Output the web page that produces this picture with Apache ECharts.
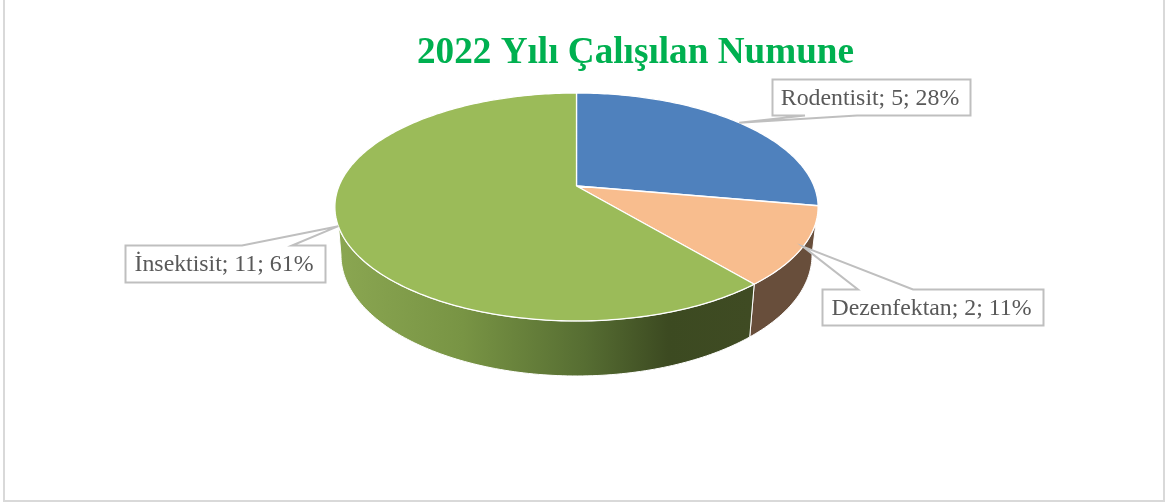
<!DOCTYPE html>
<html>
<head>
<meta charset="utf-8">
<style>
  html, body { margin: 0; padding: 0; background: #fff; }
  #chart { width: 1167px; height: 503px; }
</style>
<script src="https://cdn.jsdelivr.net/npm/echarts@6/dist/echarts.min.js"></script>
</head>
<body>
<div id="chart"></div>
<script>
var titleText = '2022 Yılı Çalışılan Numune'
var categories = ['Rodentisit', 'Dezenfektan', 'İnsektisit']
var values = [5, 2, 11]

var topColors = ['#4f81bd', '#f8bd8e', '#9bbb59']

// perspective of the disc, top ring and bottom ring
var disc = { cx: 576.5, p: 0.184, top: { a: 237.5, b: 75.9, c: 186 }, bottom: { a: 231.5, b: 74, c: 232.8 } }
// angles where the side wall stops being visible
var topVisible = [108, 249.6]
var bottomVisible = [100.6, 259.4]
// label boxes: x, y, w, h, edge the pointer leaves from, pointer base
var boxes = [
  { x: 772.5, y: 79.5, w: 198, h: 36, edge: 'bottom', base: [805, 857] },
  { x: 822.5, y: 289.5, w: 221, h: 36, edge: 'top', base: [858, 913] },
  { x: 125.5, y: 245.5, w: 200, h: 37, edge: 'top', base: [242, 292] }
]

var total = values.reduce(function (a, b) { return a + b }, 0)

// angle in degrees clockwise from the back of the disc -> screen point
function project (ring, deg, r) {
  var t = deg * Math.PI / 180
  var radius = r === undefined ? 1 : r
  var u = Math.sin(t) * radius
  var v = -Math.cos(t) * radius
  var d = 1 - disc.p * v
  return [disc.cx + ring.a * u / d, (ring.b * v + ring.c) / d]
}

function arc (ring, from, to) {
  var pts = []
  var n = Math.max(2, Math.ceil(Math.abs(to - from)))
  for (var i = 0; i <= n; i++) {
    pts.push(project(ring, from + (to - from) * i / n))
  }
  return pts
}

function sliceRange (index) {
  var before = 0
  for (var i = 0; i < index; i++) before += values[i]
  return [before / total * 360, (before + values[index]) / total * 360]
}

var sideFills = [
  '#4f81bd',
  '#684e3b',
  new echarts.graphic.LinearGradient(340, 0, 750, 0, [
    { offset: 0, color: '#8aa651' },
    { offset: 0.3, color: '#789444' },
    { offset: 0.6, color: '#566d32' },
    { offset: 0.8, color: '#3c4a21' },
    { offset: 1, color: '#3f4b23' }
  ], true)
]

function renderSlice (params) {
  var i = params.dataIndex
  var range = sliceRange(i)
  var children = []
  var s1 = Math.max(range[0], topVisible[0])
  var e1 = Math.min(range[1], topVisible[1])
  var s2 = Math.max(range[0], bottomVisible[0])
  var e2 = Math.min(range[1], bottomVisible[1])
  if (s1 < e1 && s2 < e2) {
    children.push({
      type: 'polygon',
      shape: { points: arc(disc.top, s1, e1).concat(arc(disc.bottom, e2, s2)) },
      style: { fill: sideFills[i], stroke: '#fff', lineWidth: 1 }
    })
  }
  children.push({
    type: 'polygon',
    shape: { points: [project(disc.top, 0, 0)].concat(arc(disc.top, range[0], range[1])) },
    style: { fill: topColors[i], stroke: '#fff', lineWidth: 1.3, lineJoin: 'round' }
  })
  return { type: 'group', children: children }
}

function renderLabel (params) {
  var i = params.dataIndex
  var box = boxes[i]
  var range = sliceRange(i)
  var tip = project(disc.top, (range[0] + range[1]) / 2)
  var l = box.x
  var r = box.x + box.w
  var t = box.y
  var b = box.y + box.h
  var points
  if (box.edge === 'top') {
    points = [[l, t], [box.base[0], t], tip, [box.base[1], t], [r, t], [r, b], [l, b]]
  } else {
    points = [[l, t], [r, t], [r, b], [box.base[1], b], tip, [box.base[0], b], [l, b]]
  }
  var pct = Math.round(values[i] / total * 100)
  return {
    type: 'group',
    children: [
      {
        type: 'polygon',
        shape: { points: points },
        style: { fill: '#fff', stroke: '#bfbfbf', lineWidth: 2 }
      },
      {
        type: 'text',
        style: {
          x: (l + r) / 2 - 1.5,
          y: (t + b) / 2 + 1,
          text: categories[i] + '; ' + values[i] + '; ' + pct + '%',
          fill: '#595959',
          font: '23.8px "Liberation Serif"',
          align: 'center',
          verticalAlign: 'middle'
        }
      }
    ]
  }
}

var chart = echarts.init(document.getElementById('chart'), null, { renderer: 'canvas' })
chart.setOption({
  animation: false,
  backgroundColor: '#fff',
  title: {
    text: titleText,
    left: 417,
    top: 35,
    padding: 0,
    textStyle: {
      fontFamily: 'Liberation Serif',
      fontWeight: 'bold',
      fontSize: 37.2,
      color: '#00b050'
    }
  },
  graphic: [{
    type: 'rect',
    silent: true,
    shape: { x: 4, y: -2, width: 1160, height: 503 },
    style: { fill: 'none', stroke: '#d9d9d9', lineWidth: 2 }
  }],
  series: [
    {
      type: 'custom',
      coordinateSystem: 'none',
      renderItem: renderSlice,
      data: values.map(function (v, i) { return { name: categories[i], value: v } }),
      z: 2
    },
    {
      type: 'custom',
      coordinateSystem: 'none',
      renderItem: renderLabel,
      data: values.map(function (v, i) { return { name: categories[i], value: v } }),
      z: 3
    }
  ]
})
</script>
</body>
</html>
